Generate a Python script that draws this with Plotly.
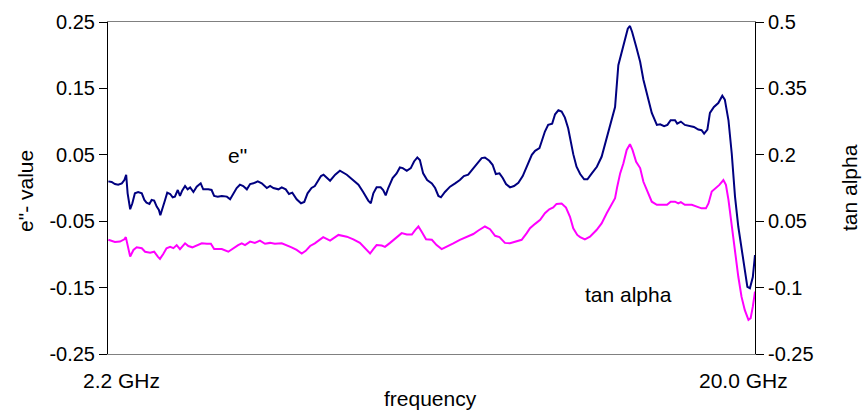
import plotly.graph_objects as go

# ---- data ----
freq_e = [2.21, 2.30, 2.39, 2.48, 2.58, 2.65, 2.70, 2.74, 2.81, 2.87, 2.94, 3.03, 3.13, 3.20, 3.26, 3.34,
          3.40, 3.47, 3.54, 3.60, 3.64, 3.69, 3.77, 3.83, 3.91, 3.98, 4.04, 4.12, 4.18, 4.24, 4.32, 4.39,
          4.46, 4.55, 4.64, 4.75, 4.82, 4.96, 5.05, 5.12, 5.22, 5.33, 5.47, 5.56, 5.65, 5.74, 5.83, 5.92,
          6.02, 6.11, 6.20, 6.32, 6.43, 6.57, 6.66, 6.75, 6.89, 6.98, 7.09, 7.18, 7.27, 7.39, 7.51, 7.60,
          7.69, 7.80, 7.89, 7.99, 8.06, 8.13, 8.31, 8.45, 8.58, 8.77, 8.95, 9.09, 9.22, 9.36, 9.43, 9.50,
          9.59, 9.70, 9.77, 9.84, 9.91, 10.03, 10.14, 10.23, 10.31, 10.42, 10.53, 10.62, 10.71, 10.78,
          10.87, 10.98, 11.11, 11.20, 11.29, 11.36, 11.47, 11.61, 11.75, 11.88, 11.99, 12.11, 12.21,
          12.34, 12.48, 12.57, 12.69, 12.78, 12.87, 12.97, 13.06, 13.15, 13.26, 13.37, 13.49, 13.61,
          13.72, 13.86, 13.95, 14.07, 14.13, 14.22, 14.31, 14.42, 14.50, 14.59, 14.68, 14.77, 14.86,
          14.93, 15.00, 15.09, 15.19, 15.30, 15.39, 15.51, 15.65, 15.78, 15.92, 16.06, 16.15, 16.24,
          16.33, 16.42, 16.50, 16.56, 16.62, 16.73, 16.84, 16.93, 17.04, 17.16, 17.30, 17.39, 17.50,
          17.59, 17.68, 17.80, 17.86, 17.96, 18.07, 18.21, 18.32, 18.44, 18.53, 18.60, 18.69, 18.76,
          18.87, 18.99, 19.10, 19.17, 19.27, 19.36, 19.45, 19.54, 19.63, 19.72, 19.79, 19.86, 19.94, 20.00]
e_value = [0.010, 0.009, 0.006, 0.005, 0.007, 0.012, 0.020, -0.008, -0.032, -0.023, -0.008, -0.006, -0.008,
           -0.018, -0.022, -0.024, -0.018, -0.019, -0.028, -0.033, -0.041, -0.033, -0.018, -0.007, -0.009,
           -0.014, -0.013, -0.003, -0.012, -0.004, 0.003, -0.002, 0.001, -0.006, 0.002, 0.007, -0.002,
           -0.002, -0.003, -0.012, -0.013, -0.012, -0.013, -0.017, -0.008, 0.000, 0.005, 0.003, -0.002,
           0.006, 0.007, 0.010, 0.007, 0.000, 0.003, 0.000, -0.002, 0.001, -0.002, -0.009, -0.007, -0.017,
           -0.023, -0.021, -0.008, 0.000, 0.003, 0.012, 0.018, 0.020, 0.011, 0.020, 0.026, 0.020, 0.012,
           0.005, -0.006, -0.019, -0.023, -0.008, 0.001, 0.001, -0.003, -0.011, 0.000, 0.015, 0.022, 0.031,
           0.030, 0.026, 0.030, 0.040, 0.046, 0.042, 0.022, 0.012, 0.007, 0.000, -0.012, -0.014, -0.006,
           0.002, 0.007, 0.012, 0.018, 0.020, 0.027, 0.036, 0.045, 0.046, 0.041, 0.035, 0.021, 0.022, 0.015,
           0.006, 0.001, 0.003, 0.008, 0.018, 0.032, 0.050, 0.056, 0.060, 0.070, 0.085, 0.095, 0.097, 0.111,
           0.117, 0.115, 0.106, 0.090, 0.070, 0.051, 0.032, 0.021, 0.013, 0.013, 0.022, 0.032, 0.047, 0.075,
           0.102, 0.122, 0.185, 0.203, 0.225, 0.240, 0.244, 0.235, 0.213, 0.190, 0.163, 0.138, 0.113, 0.095,
           0.096, 0.093, 0.095, 0.102, 0.102, 0.097, 0.100, 0.095, 0.093, 0.092, 0.088, 0.087, 0.082, 0.088,
           0.113, 0.122, 0.128, 0.139, 0.133, 0.102, 0.052, -0.013, -0.058, -0.093, -0.124, -0.149, -0.151,
           -0.134, -0.101]

freq_tan = [2.21, 2.39, 2.53, 2.65, 2.69, 2.74, 2.81, 2.90, 2.99, 3.13, 3.22, 3.36, 3.47, 3.57, 3.63, 3.72,
            3.81, 3.91, 4.00, 4.09, 4.18, 4.32, 4.41, 4.52, 4.64, 4.78, 4.92, 5.03, 5.12, 5.33, 5.51, 5.65,
            5.78, 5.88, 5.97, 6.11, 6.24, 6.38, 6.52, 6.66, 6.79, 6.98, 7.12, 7.25, 7.39, 7.53, 7.64, 7.76,
            7.89, 8.03, 8.12, 8.31, 8.54, 8.77, 8.95, 9.13, 9.27, 9.41, 9.50, 9.59, 9.73, 9.82, 9.96, 10.10,
            10.28, 10.42, 10.56, 10.65, 10.74, 10.83, 10.95, 11.11, 11.24, 11.38, 11.52, 11.70, 11.88, 12.07,
            12.25, 12.39, 12.57, 12.71, 12.85, 12.97, 13.12, 13.26, 13.44, 13.58, 13.72, 13.81, 13.95, 14.09,
            14.22, 14.34, 14.45, 14.54, 14.68, 14.80, 14.91, 15.00, 15.11, 15.19, 15.32, 15.46, 15.64, 15.78,
            15.92, 16.06, 16.15, 16.21, 16.29, 16.38, 16.47, 16.56, 16.63, 16.73, 16.84, 16.93, 17.04, 17.16,
            17.30, 17.58, 17.68, 17.80, 17.89, 17.96, 18.07, 18.26, 18.40, 18.53, 18.65, 18.72, 18.81, 18.90,
            19.02, 19.13, 19.20, 19.27, 19.36, 19.45, 19.54, 19.63, 19.72, 19.82, 19.88, 19.94, 20.00]
tan_value = [0.008, 0.003, 0.004, 0.009, 0.014, -0.008, -0.030, -0.015, -0.009, -0.011, -0.019, -0.021,
             -0.019, -0.030, -0.035, -0.024, -0.011, -0.008, -0.011, -0.004, -0.013, 0.000, -0.006, -0.009,
             -0.004, 0.000, -0.001, -0.001, -0.013, -0.013, -0.019, -0.011, -0.004, 0.000, -0.004, 0.004,
             0.001, 0.006, -0.001, 0.001, -0.001, 0.000, -0.004, -0.009, -0.015, -0.023, -0.017, -0.006,
             0.000, 0.008, 0.014, 0.006, 0.019, 0.015, 0.009, 0.001, -0.011, -0.023, -0.013, -0.004, -0.005,
             -0.008, 0.001, 0.011, 0.023, 0.020, 0.020, 0.030, 0.038, 0.026, 0.009, 0.008, -0.004, -0.013,
             -0.008, 0.000, 0.008, 0.015, 0.021, 0.029, 0.038, 0.032, 0.017, 0.014, 0.001, 0.000, 0.004,
             0.008, 0.023, 0.034, 0.044, 0.053, 0.068, 0.077, 0.081, 0.089, 0.090, 0.081, 0.060, 0.034,
             0.019, 0.014, 0.009, 0.015, 0.030, 0.045, 0.068, 0.090, 0.102, 0.128, 0.158, 0.181, 0.211,
             0.224, 0.211, 0.184, 0.170, 0.139, 0.117, 0.094, 0.087, 0.087, 0.094, 0.094, 0.090, 0.093,
             0.087, 0.087, 0.083, 0.079, 0.079, 0.090, 0.117, 0.124, 0.132, 0.143, 0.132, 0.098, 0.038,
             -0.023, -0.075, -0.121, -0.151, -0.173, -0.169, -0.143, -0.109]

left_ticks = [0.25, 0.15, 0.05, -0.05, -0.15, -0.25]
left_labels = ["0.25", "0.15", "0.05", "-0.05", "-0.15", "-0.25"]
right_ticks = [0.5, 0.35, 0.2, 0.05, -0.1, -0.25]
right_labels = ["0.5", "0.35", "0.2", "0.05", "-0.1", "-0.25"]
x_ends = [2.2, 20.0]
x_labels = ["2.2 GHz", "20.0 GHz"]

FONT = "Arial, Liberation Sans, sans-serif"

W, H = 862, 410
L, R, T, B = 108, 107, 22, 56
PW, PH = W - L - R, H - T - B


def px(xp):
    return (xp - L) / PW


def py(yp):
    return (H - B - yp) / PH


fig = go.Figure()
fig.add_trace(go.Scatter(x=freq_e, y=e_value, mode="lines", name='e"',
                         line=dict(color="#000080", width=2), yaxis="y"))
fig.add_trace(go.Scatter(x=freq_tan, y=tan_value, mode="lines", name="tan alpha",
                         line=dict(color="#FF00FF", width=2), yaxis="y2"))

fig.update_layout(
    width=W, height=H,
    margin=dict(l=L, r=R, t=T, b=B, autoexpand=False),
    paper_bgcolor="white", plot_bgcolor="white",
    showlegend=False,
    font=dict(family=FONT, size=20, color="black"),
    xaxis=dict(range=[x_ends[0], x_ends[1]], showgrid=False, zeroline=False, automargin=False,
               showticklabels=False, ticks="", showline=True, linecolor="#808080",
               linewidth=1, mirror=True),
    yaxis=dict(range=[-0.25, 0.25], tickvals=left_ticks, ticktext=left_labels, automargin=False,
               showgrid=False, zeroline=False, showline=True, linecolor="black",
               linewidth=1, ticks="outside", ticklen=8, tickcolor="black",
               tickfont=dict(size=20)),
    yaxis2=dict(range=[-0.25, 0.5], tickvals=right_ticks, ticktext=right_labels, automargin=False,
                overlaying="y", side="right", showgrid=False, zeroline=False,
                showline=True, linecolor="black", linewidth=1, ticks="outside",
                ticklen=8, tickcolor="black", tickfont=dict(size=20)),
)

annots = [
    dict(text='e"- value', x=px(25), y=py(191), textangle=-90, font=dict(size=21)),
    dict(text="tan alpha", x=px(849), y=py(188), textangle=-90, font=dict(size=21)),
    dict(text="frequency", x=px(430), y=py(399), font=dict(size=21)),
    dict(text='e"', x=px(237), y=py(155), font=dict(size=21)),
    dict(text="tan alpha", x=px(628), y=py(294), font=dict(size=21)),
    dict(text=x_labels[0], x=px(121), y=py(381), font=dict(size=21)),
    dict(text=x_labels[1], x=px(743), y=py(381), font=dict(size=21)),
]
for a in annots:
    a.update(xref="paper", yref="paper", xanchor="center", yanchor="middle", showarrow=False)
fig.update_layout(annotations=annots)

fig.write_html(
    "out.html",
    config={"displayModeBar": False},
    post_script="document.documentElement.style.margin='0';document.body.style.margin='0';"
                "document.body.style.overflow='hidden';",
)
